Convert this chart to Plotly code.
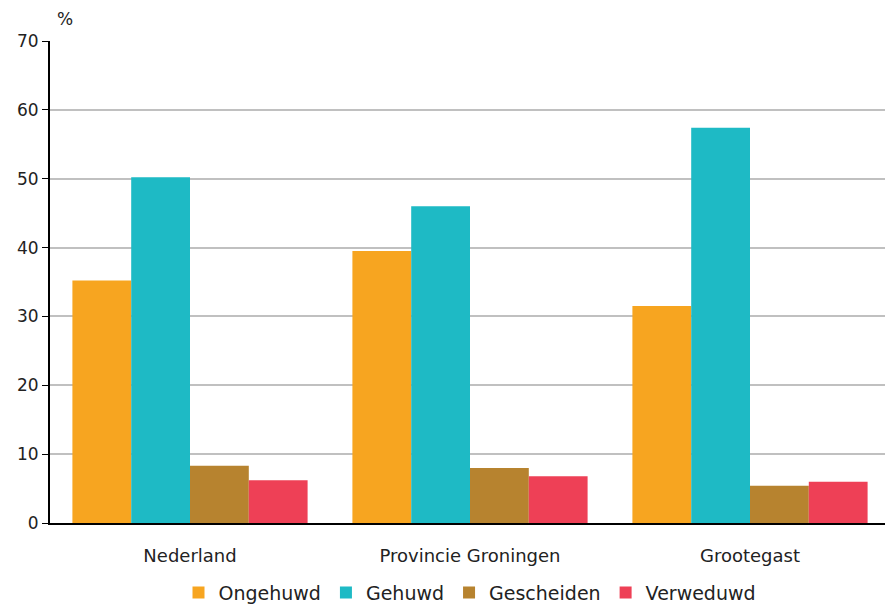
import plotly.graph_objects as go

categories = ["Nederland", "Provincie Groningen", "Grootegast"]
series_names = ["Ongehuwd", "Gehuwd", "Gescheiden", "Verweduwd"]
ongehuwd = [35.2, 39.5, 31.5]
gehuwd = [50.2, 46.0, 57.4]
gescheiden = [8.3, 8.0, 5.4]
verweduwd = [6.2, 6.8, 6.0]
colors = ["#F7A520", "#1EBAC5", "#B7832F", "#EE4056"]
y_ticks = [0, 10, 20, 30, 40, 50, 60, 70]

fig = go.Figure()
for name, vals, col in zip(series_names, [ongehuwd, gehuwd, gescheiden, verweduwd], colors):
    fig.add_trace(go.Bar(name=name, x=categories, y=vals, marker=dict(color=col, line=dict(width=0))))

fig.update_layout(
    width=885, height=599,
    barmode="group", bargap=0.16, bargroupgap=0,
    plot_bgcolor="white", paper_bgcolor="white",
    margin=dict(l=42, r=3, t=33, b=84, autoexpand=False),
    font=dict(family="DejaVu Sans", size=17, color="#222"),
    showlegend=True,
    legend=dict(orientation="h", x=0.5, xanchor="center", yref="container", y=0.024, yanchor="middle",
                font=dict(size=19), itemwidth=30, tracegroupgap=0),
    xaxis=dict(showline=True, linecolor="black", linewidth=2, ticks="", tickfont=dict(size=18),
               ticklabelstandoff=15, automargin=False),
    yaxis=dict(range=[0, 70], tickvals=y_ticks, showgrid=True, gridcolor="#C0C0C0", gridwidth=1.5,
               showline=True, linecolor="black", linewidth=2, ticks="outside", ticklen=6,
               tickcolor="black", zeroline=False, tickfont=dict(size=17), automargin=False),
    annotations=[dict(text="%", xref="paper", yref="paper", x=0.006, y=1.0, yshift=10,
                      xanchor="left", yanchor="bottom", showarrow=False, font=dict(size=17))],
)

fig.write_html("out.html")
